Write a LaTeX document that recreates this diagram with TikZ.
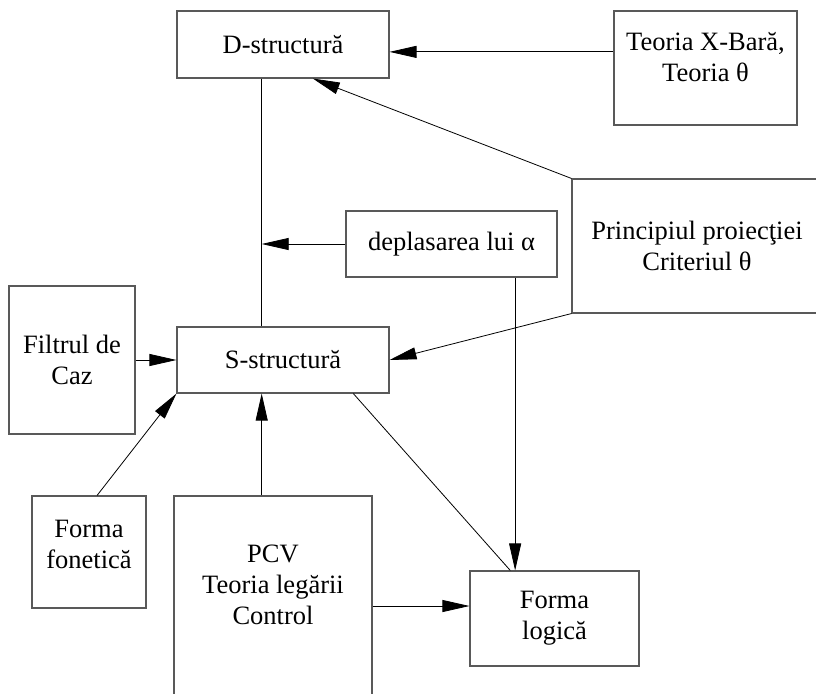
\documentclass[tikz,border=0pt]{standalone}
\usepackage{fontspec}
\setmainfont{Liberation Serif}
\usepackage{tikz}
\usetikzlibrary{calc, positioning, arrows.meta}
\newcommand{\boxfont}{\fontsize{26.5}{31}\selectfont}

\begin{document}
\begin{tikzpicture}[x=1pt, y=-1pt,
            box/.style={
                draw=black!65,
                line width=1.1pt,
                inner sep=0pt,
                align=center,
                font=\boxfont
            },
            arr/.style={-{Triangle[length=27pt,width=12pt]}, line width=0.8pt},
            lin/.style={line width=0.8pt}]
            \useasboundingbox (0,0) rectangle (816,693);
            % boxes
            \node (dstr) [box, minimum width=212, minimum height=67] at (283,44.5) {D-structură};
            \node (teoria) [box, minimum width=183, minimum height=114, text depth=22pt] at (705.5,68) {Teoria X-Bară,\\Teoria θ};
            \node (princ) [box, minimum width=250, minimum height=134] at (697,246) {Principiul proiecţiei\\Criteriul θ};
            \node (depl) [box, minimum width=211, minimum height=66] at (451.5,244) {deplasarea lui α};
            \node (filtru) [box, minimum width=126, minimum height=148] at (72,360) {Filtrul de\\Caz};
            \node (sstr) [box, minimum width=212, minimum height=66] at (283,360) {S-structură};
            \node (fon) [box, minimum width=114, minimum height=112, text depth=16pt] at (89,552) {Forma\\fonetică};
            \node (pcv) [box, minimum width=198, minimum height=224, text depth=46pt] at (273,608) {PCV\\Teoria legării\\Control};
            \node (flog) [box, minimum width=169, minimum height=95] at (554.5,618.5) {Forma\\logică};
            % points on the borders
            \coordinate (spinetop) at ($(dstr.south west)!.4!(dstr.south east)$);
            \coordinate (spinebot) at ($(sstr.north west)!.4!(sstr.north east)$);
            \coordinate (dhit) at ($(dstr.south west)!.64!(dstr.south east)$);
            \coordinate (teoriaout) at ($(teoria.north west)!.36!(teoria.south west)$);
            \coordinate (deplout) at ($(depl.south west)!.8!(depl.south east)$);
            \coordinate (fonout) at ($(fon.north west)!.57!(fon.north east)$);
            \coordinate (sout) at ($(sstr.south west)!.83!(sstr.south east)$);
            \coordinate (flogtop) at ($(flog.north west)!.24!(flog.north east)$);
            \coordinate (flogin) at ($(flog.north west)!.37!(flog.south west)$);
            % connectors
            \draw[lin] (spinetop) -- (spinebot);
            \draw[arr] (teoriaout) -- (teoriaout -| dstr.east);
            \draw[arr] (princ.north west) -- (dhit);
            \draw[arr] (princ.south west) -- (sstr.east);
            \draw[arr] (depl.west) -- (depl.west -| spinetop);
            \draw[arr] (deplout) -- (deplout |- flog.north);
            \draw[arr] (filtru.east) -- (sstr.west);
            \draw[arr] (fonout) -- (sstr.south west);
            \draw[arr] (pcv.north -| spinebot) -- (sstr.south -| spinebot);
            \draw[lin] (sout) -- (flogtop);
            \draw[arr] (flogin -| pcv.east) -- (flogin);
\end{tikzpicture}
\end{document}
